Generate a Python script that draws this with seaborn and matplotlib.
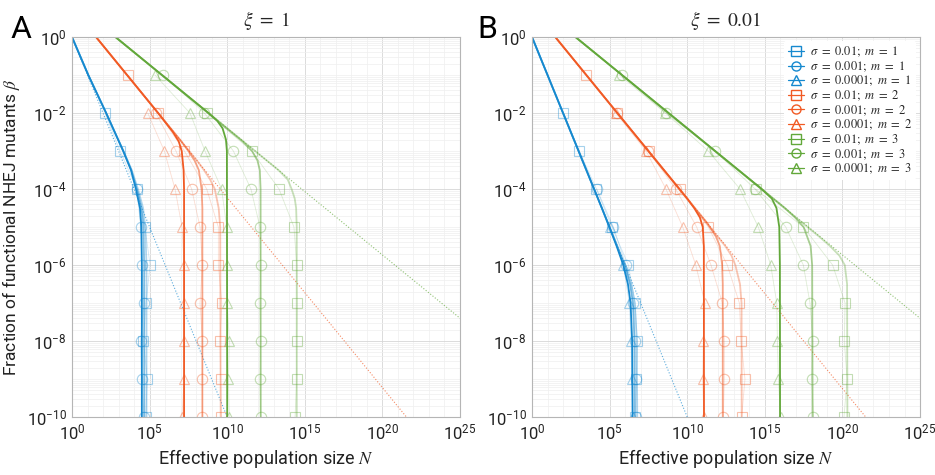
import numpy as np
import matplotlib
matplotlib.use("Agg")
import matplotlib.pyplot as plt
from matplotlib.lines import Line2D
from matplotlib.ticker import FixedLocator, LogLocator, NullFormatter
import seaborn as sns

nan = np.nan

# all values are log10: x = log10 N, y = log10 beta
COLORS = ["#1689CF", "#F15A24", "#62A83A"]          # m = 1, 2, 3
SIGMA_LABELS = ["0.01", "0.001", "0.0001"]
MARKERS = ["s", "o", "^"]
THEORY_ALPHA = [0.35, 0.55, 1.0]
BETA_EXP = [-1, -2, -3, -4, -5, -6, -7, -8, -9, -10]

# ---------------- panel A, xi = 1 ----------------
# simulations: log10 N at each BETA_EXP, sigma order 0.01, 0.001, 0.0001
SIM_A_M1 = [[nan, 2.13, 3.09, 4.20, 4.70, 5.03, 4.77, 4.60, 4.85, 4.75],
            [nan, nan, nan, 4.17, 4.43, 4.49, 4.64, 4.42, 4.49, 4.64],
            []]
SIM_A_M2 = [[3.59, 5.56, 7.24, 8.68, 9.43, 9.43, 9.65, 9.54, 9.58, 9.62],
            [nan, 5.41, 6.70, 7.71, 8.25, 8.40, 8.25, 8.40, 8.40, 8.40],
            [nan, 4.88, 5.95, 6.64, 7.09, 7.22, 7.22, 7.22, 7.22, 7.09]]
SIM_A_M3 = [[nan, 8.72, 11.58, 13.34, 14.30, 14.48, 14.50, 14.48, 14.48, 14.37],
            [5.88, 8.53, 10.40, 11.53, 12.11, 12.16, 12.11, 12.16, 12.11, 12.16],
            [5.35, 7.60, 8.57, 9.64, 9.97, 9.97, 10.00, 10.14, 10.08, 10.14]]

# theory curves: (log10 beta, log10 N)
TH_A_M1 = [([0, -1, -2, -3, -3.5, -4, -4.5, -5, -6, -10], [0, 1.05, 2.2, 3.32, 3.85, 4.25, 4.58, 4.72, 4.8, 4.8]),
           ([0, -1, -2, -3, -3.5, -4, -4.5, -5, -6, -10], [0, 1.05, 2.2, 3.3, 3.82, 4.18, 4.48, 4.6, 4.65, 4.65]),
           ([0, -1, -2, -3, -3.5, -4, -4.5, -5, -6, -10], [0, 1.05, 2.2, 3.3, 3.8, 4.12, 4.38, 4.47, 4.5, 4.5])]
TH_A_M2 = [([0, -3.25, -3.5, -3.75, -4, -4.5, -5, -10], [1.55, 8.05, 8.5, 8.9, 9.2, 9.45, 9.55, 9.58]),
           ([0, -2.75, -3, -3.25, -3.5, -4, -4.5, -10], [1.55, 7.05, 7.5, 7.9, 8.17, 8.35, 8.4, 8.4]),
           ([0, -2, -2.5, -2.75, -3, -3.5, -4, -10], [1.55, 5.55, 6.5, 6.88, 7.07, 7.19, 7.22, 7.22])]
TH_A_M3 = [([0, -3.5, -3.75, -4, -4.25, -4.5, -5, -10], [2.8, 13.3, 13.9, 14.15, 14.35, 14.44, 14.48, 14.48]),
           ([0, -2.75, -3, -3.25, -3.5, -4, -10], [2.8, 11.0, 11.6, 11.95, 12.1, 12.15, 12.16]),
           ([0, -2, -2.2, -2.4, -2.7, -3, -10], [2.8, 8.8, 9.35, 9.7, 9.92, 9.98, 10.0])]
ASYM_A = [([0, -10], [0, 10]), ([0, -10], [1.55, 21.55]), ([0, -10], [2.8, 32.8])]

# ---------------- panel B, xi = 0.01 ----------------
SIM_B_M1 = [[nan, 2.02, 3.05, 4.15, 5.15, 6.21, 6.64, 6.79, 6.72, 6.65],
            [nan, nan, nan, 4.17, 5.24, 6.05, 6.53, 6.64, 6.70, 6.70],
            [nan, nan, nan, nan, 5.03, 5.88, 6.27, 6.38, 6.42, 6.50]]
SIM_B_M2 = [[3.48, 5.50, 7.56, 9.54, 11.36, 12.58, 13.36, 13.47, 13.72, 13.51],
            [nan, 5.45, 7.50, 9.26, 10.61, 11.53, 12.26, 12.39, 12.39, 12.33],
            [nan, 5.40, 7.35, 8.63, 9.71, 10.55, 11.14, 11.04, 10.99, 11.08]]
SIM_B_M3 = [[nan, nan, nan, 14.40, 17.48, 19.37, 20.17, 20.12, 20.30, 20.10],
            [5.78, 8.63, 11.79, 14.37, 16.35, 17.48, 17.91, 18.09, 18.02, 18.13],
            [5.63, 8.60, 11.36, 13.40, 14.58, 15.38, 15.77, 15.81, 15.87, 16.02]]

TH_B_M1 = [([0, -4.5, -5, -5.5, -6, -6.5, -7, -8, -10], [0, 4.5, 5.0, 5.5, 6.0, 6.4, 6.62, 6.75, 6.78]),
           ([0, -4.5, -5, -5.5, -6, -6.5, -7, -8, -10], [0, 4.5, 5.0, 5.48, 5.95, 6.32, 6.5, 6.6, 6.62]),
           ([0, -4.5, -5, -5.5, -6, -6.5, -7, -8, -10], [0, 4.5, 4.98, 5.45, 5.88, 6.18, 6.35, 6.45, 6.48])]
TH_B_M2 = [([0, -5.5, -5.75, -6, -6.5, -7, -10], [1.5, 12.45, 12.85, 13.1, 13.4, 13.5, 13.51]),
           ([0, -4.9, -5.25, -5.5, -6, -6.5, -10], [1.5, 11.3, 11.85, 12.1, 12.25, 12.29, 12.29]),
           ([0, -4.25, -4.5, -4.75, -5, -5.5, -10], [1.5, 10.0, 10.45, 10.82, 11.0, 11.07, 11.08])]
TH_B_M3 = [([0, -5.25, -5.5, -5.75, -6, -6.5, -10], [2.8, 18.5, 19.2, 19.8, 20.15, 20.3, 20.32]),
           ([0, -4.5, -4.75, -5, -5.5, -6, -10], [2.8, 16.3, 16.95, 17.5, 17.95, 18.05, 18.08]),
           ([0, -4, -4.25, -4.5, -5, -6, -10], [2.8, 14.8, 15.45, 15.75, 15.93, 15.97, 15.98])]
ASYM_B = [([0, -10], [0, 10]), ([0, -10], [1.5, 21.5]), ([0, -10], [2.8, 32.8])]


sns.set_theme(style="whitegrid")
plt.rcParams["font.family"] = ["Roboto", "DejaVu Sans"]
plt.rcParams["mathtext.fontset"] = "stix"


def pw(v):
    return 10.0 ** np.asarray(v, dtype=float)


def draw_panel(ax, sims, theories, asym):
    ax.set_xscale("log")
    ax.set_yscale("log")
    for m in range(3):
        c = COLORS[m]
        # dotted power-law asymptote
        b, n = asym[m]
        sns.lineplot(x=pw(n), y=pw(b), ax=ax, color=c, lw=0.8, ls=":", alpha=0.7,
                     sort=False, estimator=None)
        for s in range(3):
            vals = sims[m][s]
            if vals:
                x = pw(vals)
                y = pw(BETA_EXP)
                ok = ~np.isnan(x)
                sns.lineplot(x=x[ok], y=y[ok], ax=ax, color=c, lw=0.6, alpha=0.2,
                             sort=False, estimator=None)
                sns.lineplot(x=x[ok], y=y[ok], ax=ax, color=c, ls="none", marker=MARKERS[s],
                             ms=7.5, mfc="none", mec=c, mew=0.8, alpha=0.38,
                             sort=False, estimator=None)
        for s in range(3):
            b, n = theories[m][s]
            sns.lineplot(x=pw(n), y=pw(b), ax=ax, color=c, lw=1.3, alpha=THEORY_ALPHA[s],
                         sort=False, estimator=None)

    ax.set_xlim(1, 1e25)
    ax.set_ylim(1e-10, 1)
    ax.xaxis.set_major_locator(FixedLocator([1e0, 1e5, 1e10, 1e15, 1e20, 1e25]))
    ax.xaxis.set_minor_locator(LogLocator(base=10, subs=(1.0,), numticks=100))
    ax.yaxis.set_major_locator(FixedLocator([1e-10, 1e-8, 1e-6, 1e-4, 1e-2, 1e0]))
    ax.yaxis.set_minor_locator(LogLocator(base=10, subs=np.arange(1, 10), numticks=100))
    ax.xaxis.set_minor_formatter(NullFormatter())
    ax.yaxis.set_minor_formatter(NullFormatter())
    ax.grid(which="major", color="#d6d6d6", lw=0.6)
    ax.grid(which="minor", color="#efefef", lw=0.5)
    ax.tick_params(which="both", direction="in", colors="#888888", labelcolor="#222222",
                   labelsize=12, length=3)
    ax.tick_params(which="minor", length=1.5)
    ax.tick_params(axis="x", pad=4)
    ax.tick_params(axis="y", pad=4)
    for sp in ax.spines.values():
        sp.set_color("#b5b5b5")
        sp.set_linewidth(0.8)
    ax.set_xlabel(r"Effective population size $N$", fontsize=13, color="#222222")
    ax.xaxis.set_label_coords(0.5, -0.078)


fig = plt.figure(figsize=(9.35, 4.75), dpi=100)
axA = fig.add_axes([0.077, 0.122, 0.415, 0.80])
axB = fig.add_axes([0.569, 0.122, 0.415, 0.80])

draw_panel(axA, [SIM_A_M1, SIM_A_M2, SIM_A_M3], [TH_A_M1, TH_A_M2, TH_A_M3], ASYM_A)
draw_panel(axB, [SIM_B_M1, SIM_B_M2, SIM_B_M3], [TH_B_M1, TH_B_M2, TH_B_M3], ASYM_B)

axA.set_ylabel(r"Fraction of functional NHEJ mutants $\beta$", fontsize=12.5, color="#222222")
axA.yaxis.set_label_coords(-0.129, 0.5)
axB.set_ylabel("")
axA.set_title(r"$\xi\ =\ 1$", fontsize=14, pad=8)
axB.set_title(r"$\xi\ =\ 0.01$", fontsize=14, pad=8)

fig.text(0.011, 0.92, "A", fontsize=23, color="black", va="baseline")
fig.text(0.511, 0.92, "B", fontsize=23, color="black", va="baseline")

handles, labels = [], []
for m in range(3):
    for s in range(3):
        handles.append(Line2D([], [], color=COLORS[m], lw=0.9, marker=MARKERS[s], ms=6.5,
                              mfc="none", mec=COLORS[m], mew=1.0))
        labels.append(r"$\sigma\ =\ %s;\ m\ =\ %d$" % (SIGMA_LABELS[s], m + 1))
leg = axB.legend(handles, labels, loc="upper right", fontsize=9, frameon=True,
                 facecolor="white", edgecolor="none", framealpha=1, handlelength=1.3,
                 handletextpad=0.5, labelspacing=0.0, borderaxespad=0.3, borderpad=0.3)

fig.savefig("out.png", dpi=100)
